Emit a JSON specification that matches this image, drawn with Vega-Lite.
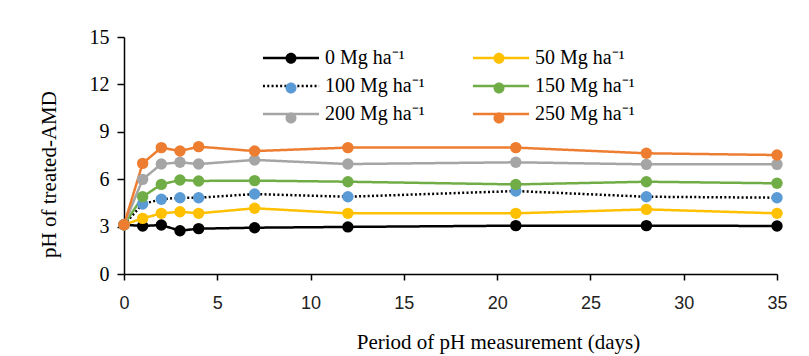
{
  "$schema": "https://vega.github.io/schema/vega-lite/v6.json",
  "autosize": "none",
  "width": 653,
  "height": 237,
  "padding": {"left": 124, "top": 37, "right": 32, "bottom": 82},
  "background": "white",
  "config": {
    "view": {"stroke": null},
    "axis": {"grid": false, "labelFlush": false, "domainColor": "black", "domainWidth": 1.5, "tickColor": "black", "tickWidth": 1.5, "labelColor": "black", "titleColor": "black", "titleFont": "Liberation Serif", "titleFontWeight": "normal", "titleFontSize": 21},
    "legend": {
      "orient": "none", "direction": "horizontal", "legendX": 157, "legendY": 11, "columns": 2, "padding": 0,
      "labelFont": "Liberation Serif", "labelFontSize": 20, "labelColor": "black", "labelOffset": 24,
      "columnPadding": 42, "rowPadding": 8, "symbolSize": 121, "symbolStrokeWidth": 2.5, "symbolOpacity": 1
    }
  },
  "data": {"values": [
    {"day": 0, "series": "0 Mg ha⁻¹", "pH": 3.12},
    {"day": 1, "series": "0 Mg ha⁻¹", "pH": 3.04},
    {"day": 2, "series": "0 Mg ha⁻¹", "pH": 3.1},
    {"day": 3, "series": "0 Mg ha⁻¹", "pH": 2.74},
    {"day": 4, "series": "0 Mg ha⁻¹", "pH": 2.87},
    {"day": 7, "series": "0 Mg ha⁻¹", "pH": 2.93},
    {"day": 12, "series": "0 Mg ha⁻¹", "pH": 2.98},
    {"day": 21, "series": "0 Mg ha⁻¹", "pH": 3.06},
    {"day": 28, "series": "0 Mg ha⁻¹", "pH": 3.06},
    {"day": 35, "series": "0 Mg ha⁻¹", "pH": 3.04},
    {"day": 0, "series": "50 Mg ha⁻¹", "pH": 3.12},
    {"day": 1, "series": "50 Mg ha⁻¹", "pH": 3.52},
    {"day": 2, "series": "50 Mg ha⁻¹", "pH": 3.84},
    {"day": 3, "series": "50 Mg ha⁻¹", "pH": 3.94},
    {"day": 4, "series": "50 Mg ha⁻¹", "pH": 3.84},
    {"day": 7, "series": "50 Mg ha⁻¹", "pH": 4.16},
    {"day": 12, "series": "50 Mg ha⁻¹", "pH": 3.84},
    {"day": 21, "series": "50 Mg ha⁻¹", "pH": 3.84},
    {"day": 28, "series": "50 Mg ha⁻¹", "pH": 4.09},
    {"day": 35, "series": "50 Mg ha⁻¹", "pH": 3.84},
    {"day": 0, "series": "100 Mg ha⁻¹", "pH": 3.12},
    {"day": 1, "series": "100 Mg ha⁻¹", "pH": 4.43},
    {"day": 2, "series": "100 Mg ha⁻¹", "pH": 4.73},
    {"day": 3, "series": "100 Mg ha⁻¹", "pH": 4.83},
    {"day": 4, "series": "100 Mg ha⁻¹", "pH": 4.83},
    {"day": 7, "series": "100 Mg ha⁻¹", "pH": 5.06},
    {"day": 12, "series": "100 Mg ha⁻¹", "pH": 4.89},
    {"day": 21, "series": "100 Mg ha⁻¹", "pH": 5.25},
    {"day": 28, "series": "100 Mg ha⁻¹", "pH": 4.89},
    {"day": 35, "series": "100 Mg ha⁻¹", "pH": 4.83},
    {"day": 0, "series": "150 Mg ha⁻¹", "pH": 3.12},
    {"day": 1, "series": "150 Mg ha⁻¹", "pH": 4.89},
    {"day": 2, "series": "150 Mg ha⁻¹", "pH": 5.67},
    {"day": 3, "series": "150 Mg ha⁻¹", "pH": 5.95},
    {"day": 4, "series": "150 Mg ha⁻¹", "pH": 5.89},
    {"day": 7, "series": "150 Mg ha⁻¹", "pH": 5.91},
    {"day": 12, "series": "150 Mg ha⁻¹", "pH": 5.84},
    {"day": 21, "series": "150 Mg ha⁻¹", "pH": 5.67},
    {"day": 28, "series": "150 Mg ha⁻¹", "pH": 5.84},
    {"day": 35, "series": "150 Mg ha⁻¹", "pH": 5.74},
    {"day": 0, "series": "200 Mg ha⁻¹", "pH": 3.12},
    {"day": 1, "series": "200 Mg ha⁻¹", "pH": 5.99},
    {"day": 2, "series": "200 Mg ha⁻¹", "pH": 6.96},
    {"day": 3, "series": "200 Mg ha⁻¹", "pH": 7.07},
    {"day": 4, "series": "200 Mg ha⁻¹", "pH": 6.96},
    {"day": 7, "series": "200 Mg ha⁻¹", "pH": 7.22},
    {"day": 12, "series": "200 Mg ha⁻¹", "pH": 6.96},
    {"day": 21, "series": "200 Mg ha⁻¹", "pH": 7.07},
    {"day": 28, "series": "200 Mg ha⁻¹", "pH": 6.94},
    {"day": 35, "series": "200 Mg ha⁻¹", "pH": 6.94},
    {"day": 0, "series": "250 Mg ha⁻¹", "pH": 3.12},
    {"day": 1, "series": "250 Mg ha⁻¹", "pH": 7.0},
    {"day": 2, "series": "250 Mg ha⁻¹", "pH": 8.0},
    {"day": 3, "series": "250 Mg ha⁻¹", "pH": 7.78},
    {"day": 4, "series": "250 Mg ha⁻¹", "pH": 8.06},
    {"day": 7, "series": "250 Mg ha⁻¹", "pH": 7.78},
    {"day": 12, "series": "250 Mg ha⁻¹", "pH": 8.0},
    {"day": 21, "series": "250 Mg ha⁻¹", "pH": 8.0},
    {"day": 28, "series": "250 Mg ha⁻¹", "pH": 7.64},
    {"day": 35, "series": "250 Mg ha⁻¹", "pH": 7.53}
  ]},
  "encoding": {
    "x": {"field": "day", "type": "quantitative",
      "scale": {"domain": [0, 35], "nice": false},
      "axis": {"values": [0, 5, 10, 15, 20, 25, 30, 35], "tickSize": 6, "labelPadding": 14, "labelFont": "Liberation Sans", "labelFontSize": 18, "labelColor": "#222222",
        "title": "Period of pH measurement (days)", "titleX": 374, "titleY": 74, "titleBaseline": "alphabetic", "titleAnchor": null, "titleAlign": "center"}},
    "y": {"field": "pH", "type": "quantitative",
      "scale": {"domain": [0, 15], "nice": false, "zero": true},
      "axis": {"values": [0, 3, 6, 9, 12, 15], "tickSize": 7, "labelPadding": 8, "labelFont": "Liberation Serif", "labelFontSize": 20,
        "title": "pH of treated-AMD", "titleX": -75, "titleY": 137, "titleAngle": -90, "titleBaseline": "middle", "titleAlign": "center", "titleAnchor": null}}
  },
  "layer": [
    {
      "mark": {"type": "line", "strokeWidth": 2.5, "strokeCap": "butt"},
      "encoding": {
        "stroke": {"field": "series", "type": "nominal",
          "scale": {"domain": ["0 Mg ha⁻¹", "50 Mg ha⁻¹", "100 Mg ha⁻¹", "150 Mg ha⁻¹", "200 Mg ha⁻¹", "250 Mg ha⁻¹"],
                    "range": ["#000000", "#FFC000", "#000000", "#70AD47", "#A5A5A5", "#ED7D31"]},
          "legend": {"title": null, "symbolType": "M-5.1,0L5.1,0", "zindex": 1}},
        "strokeDash": {"field": "series", "type": "nominal",
          "scale": {"domain": ["0 Mg ha⁻¹", "50 Mg ha⁻¹", "100 Mg ha⁻¹", "150 Mg ha⁻¹", "200 Mg ha⁻¹", "250 Mg ha⁻¹"],
                    "range": [[1, 0], [1, 0], [2, 2.3], [1, 0], [1, 0], [1, 0]]},
          "legend": {"title": null, "symbolType": "M-5.1,0L5.1,0", "zindex": 1}}
      }
    },
    {
      "mark": {"type": "point", "filled": true, "opacity": 1, "size": 130, "shape": "circle"},
      "encoding": {
        "fill": {"field": "series", "type": "nominal",
          "sort": ["0 Mg ha⁻¹", "50 Mg ha⁻¹", "100 Mg ha⁻¹", "150 Mg ha⁻¹", "200 Mg ha⁻¹", "250 Mg ha⁻¹"],
          "scale": {"range": ["#000000", "#FFC000", "#5B9BD5", "#70AD47", "#A5A5A5", "#ED7D31"]},
          "legend": {"title": null, "symbolType": "M-5.1,0L5.1,0M1,0A1,1,0,1,1,-1,0A1,1,0,1,1,1,0Z", "symbolStrokeColor": "transparent", "labelExpr": "''", "columnPadding": 140, "zindex": 2}}
      }
    }
  ]
}
